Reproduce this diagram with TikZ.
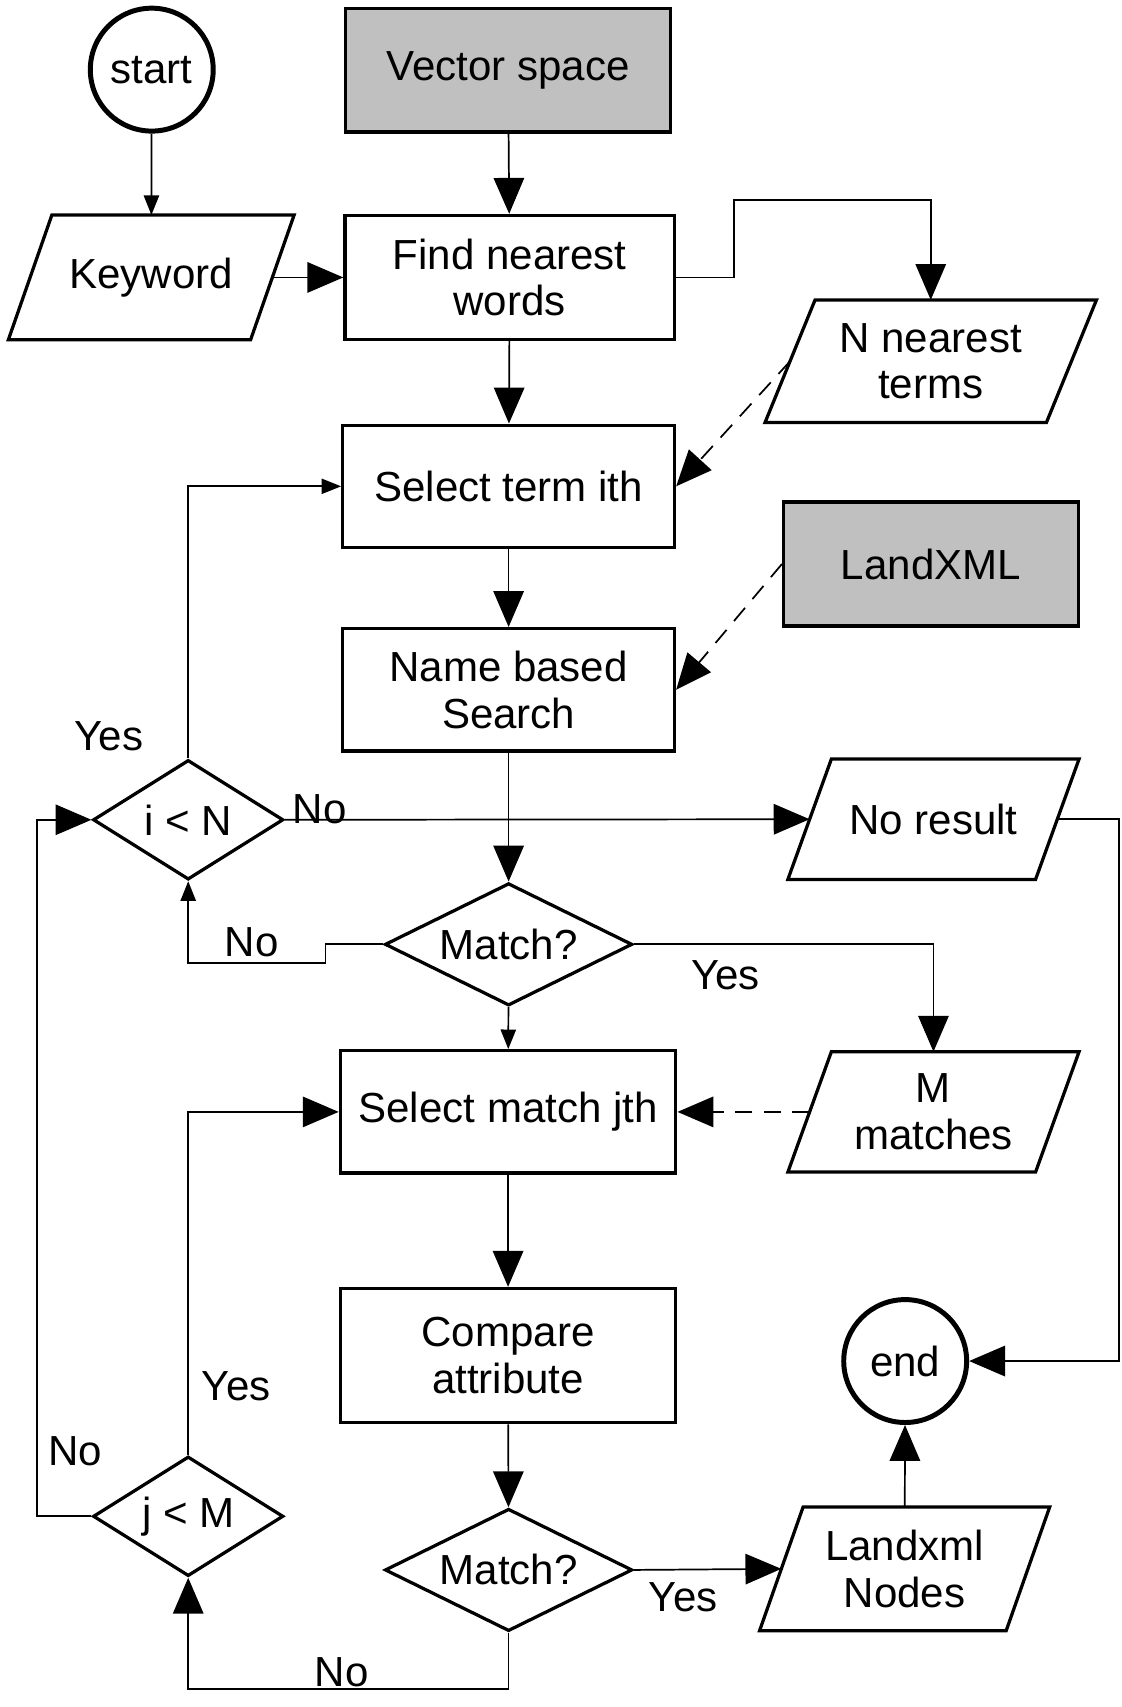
\documentclass[tikz,border=0pt]{standalone}
\usepackage{fontspec}
\setmainfont{Liberation Sans}
\usepackage{tikz}
\usetikzlibrary{shapes.geometric,arrows.meta}
\usepackage{xcolor}
\definecolor{sourcegray}{RGB}{192,192,192}

\tikzset{
  proc/.style={draw, line width=1.7pt, minimum width=6.1cm, minimum height=2.25cm, align=center, inner sep=2pt},
  iobox/.style={minimum width=4.54cm, minimum height=2.2cm, align=center, inner sep=1pt,
    append after command={\pgfextra{\draw[line width=1.7pt, line join=miter]
      ([xshift=#1]\tikzlastnode.north west) -- ([xshift=#1]\tikzlastnode.north east)
      -- ([xshift=-#1]\tikzlastnode.south east) -- ([xshift=-#1]\tikzlastnode.south west) -- cycle;}}},
  iobox/.default=0.4cm,
  decision/.style={draw, diamond, aspect=2, line width=1.7pt, inner sep=1pt, minimum width=3.5cm, minimum height=2.2cm},
  terminal/.style={draw, circle, line width=2.6pt, minimum size=2.26cm, inner sep=0pt},
  flow/.style={line width=0.9pt, -{Triangle[length=0.66cm,width=0.56cm]}},
  flowsmall/.style={line width=0.9pt, -{Triangle[length=0.36cm,width=0.28cm]}},
}

\begin{document}
\begin{tikzpicture}[x=0.02cm, y=-0.02cm, font=\fontsize{22}{24.5}\selectfont]
  \useasboundingbox (0,0) rectangle (1031,1569);

  % Main components
  \node[terminal] (start) at (139.5,64) {start};
  \node[proc, fill=sourcegray, minimum width=5.98cm, minimum height=2.27cm] (vec) at (467,64.5) {Vector space};
  \node[iobox, minimum width=4.44cm, minimum height=2.28cm] (kw) at (139,255) {Keyword};
  \node[proc, minimum width=6.06cm, minimum height=2.28cm] (find) at (468.5,255) {Find nearest\\words};
  \node[iobox=0.46cm, minimum width=5.16cm, minimum height=2.24cm] (nnt) at (855.5,332) {N nearest\\terms};
  \node[proc] (selI) at (467.5,447) {Select term ith};
  \node[proc, fill=sourcegray, minimum width=5.42cm, minimum height=2.28cm] (land) at (855.7,518.4) {LandXML};
  \node[proc] (name) at (467.5,634) {Name based\\Search};
  \node[decision] (iN) at (173,753.5) {i < N};
  \node[iobox] (nores) at (858,753) {No result};
  \node[decision, minimum width=4.55cm, minimum height=2.25cm] (m1) at (467.5,868) {Match?};
  \node[proc, minimum width=6.17cm] (selJ) at (467,1022) {Select match jth};
  \node[iobox] (mm) at (858,1022) {M\\matches};
  \node[proc, minimum width=6.17cm, minimum height=2.47cm] (comp) at (467,1246) {Compare\\attribute};
  \node[terminal] (end) at (832,1251) {end};
  \node[decision] (jM) at (173,1393.7) {j < M};
  \node[decision, minimum width=4.55cm, minimum height=2.25cm] (m2) at (467.5,1443) {Match?};
  \node[iobox, minimum width=4.52cm, minimum height=2.26cm] (lxn) at (831.5,1442) {Landxml\\Nodes};

  % Labels
  \node (yesI) at (100,677) {Yes};
  \node (noI) at (294,744) {No};
  \node (noM1) at (231.4,866.5) {No};
  \node (yesM1) at (667,896.5) {Yes};
  \node (yesJ) at (217,1274) {Yes};
  \node (noJ) at (69,1333.5) {No};
  \node (yesM2) at (628,1468) {Yes};
  \node (noM2) at (314,1537) {No};

  % Connections
  \draw[flowsmall] (start) -- (kw);
  \draw[flow] (vec) -- (find);
  \draw[flow] (kw.east) -- (find.west);
  \draw[flow] (find.east) -- ++(53,0) -- ++(0,-71) -| (nnt);
  \draw[flow] (find) -- (selI);
  \draw[flow, dashed, dash pattern=on 9pt off 6pt] (nnt.west) -- (selI.east);
  \draw[flow] (selI) -- (name);
  \draw[flow, dashed, dash pattern=on 9pt off 6pt] (land.west) -- (name.east);
  \draw[flow] (name) -- (m1);
  \draw[flowsmall] (iN.north) |- (selI.west);
  \draw[flow] (iN.east) -- (nores.west);
  \draw[flow] (nores.east) -- ++(57,0) |- (end);
  \draw[flowsmall] (m1.west) -- ++(-53,0) -- ++(0,17) -| (iN.south);
  \draw[flow] (m1.east) -| (mm);
  \draw[flowsmall] (m1) -- (selJ);
  \draw[flow, dashed, dash pattern=on 9pt off 6pt] (mm.west) -- (selJ.east);
  \draw[flow] (selJ) -- (comp);
  \draw[flow] (comp) -- (m2);
  \draw[flow] (jM.north) |- (selJ.west);
  \draw[flow] (jM.west) -- ++(-50,0) |- (iN.west);
  \draw[flow] (m2.east) -- (lxn.west);
  \draw[flow] (m2.south) -- ++(0,52) -| (jM.south);
  \draw[flow] (lxn) -- (end);
\end{tikzpicture}
\end{document}
